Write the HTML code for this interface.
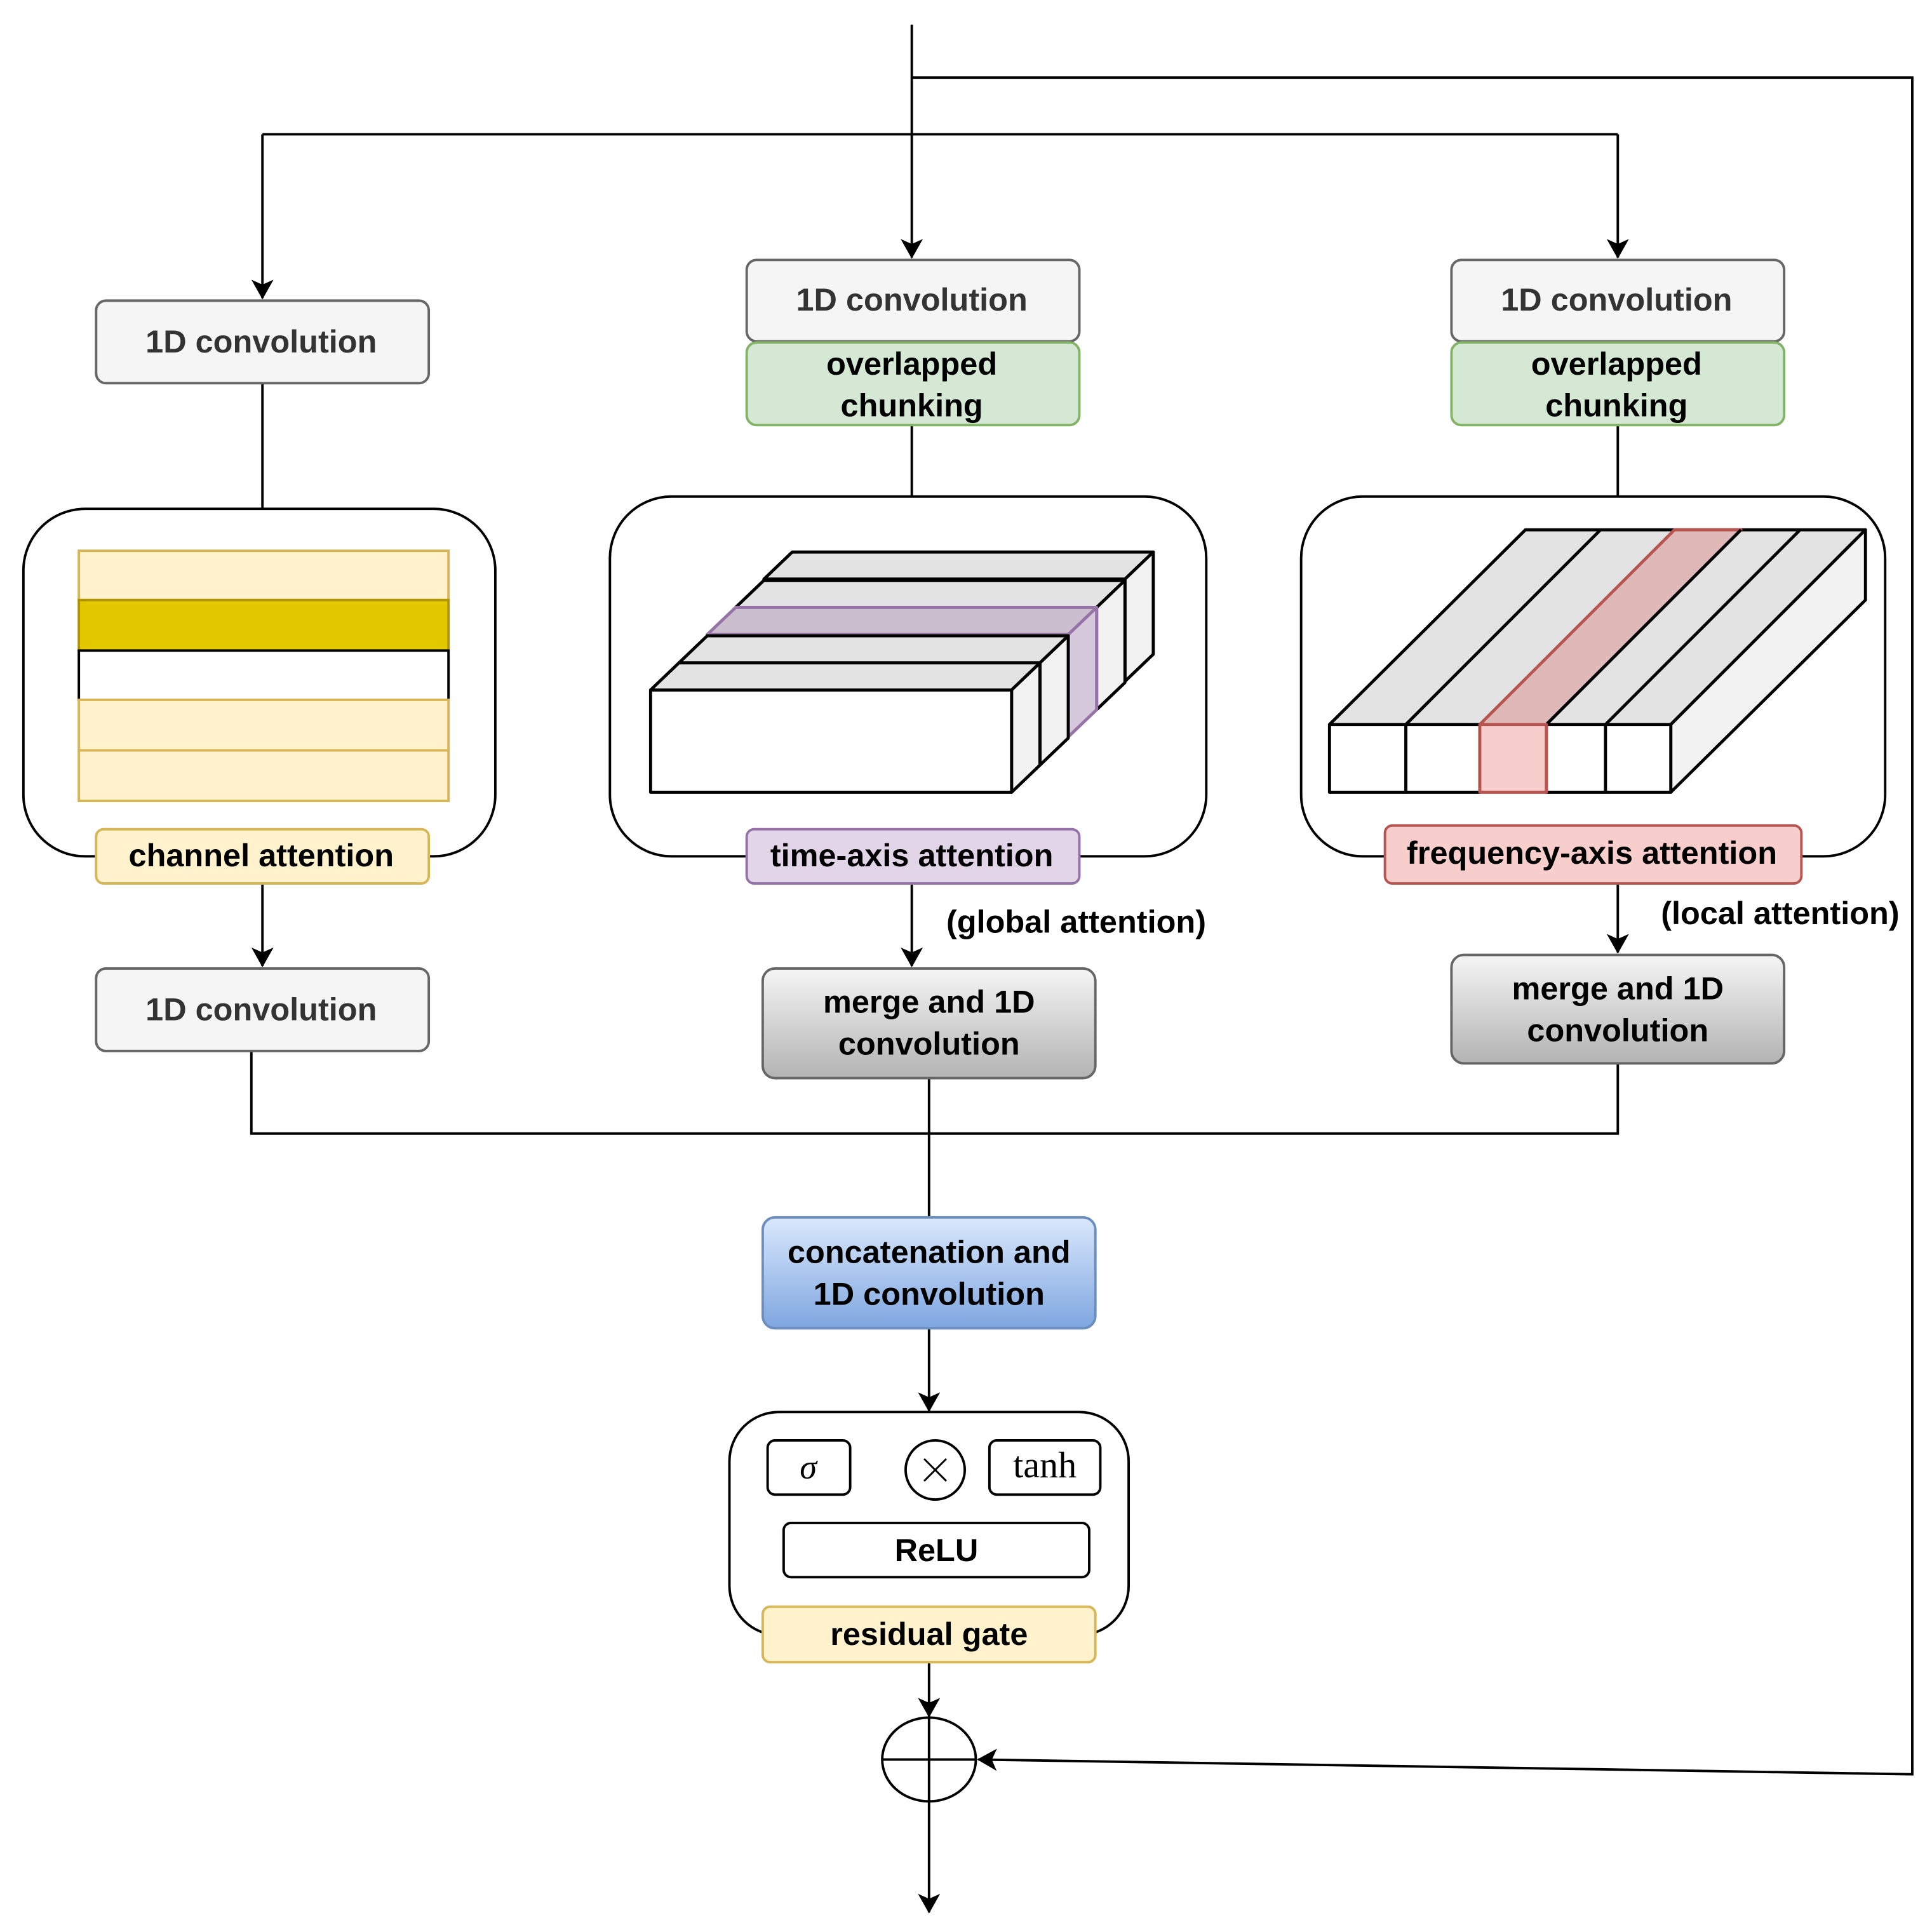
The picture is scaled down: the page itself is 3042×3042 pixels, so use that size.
<!DOCTYPE html>
<html><head><meta charset="utf-8"><style>html,body{margin:0;padding:0;background:#fff}svg{display:block}</style></head>
<body>
<svg width="3042" height="3042" viewBox="0 0 1568 1568" xmlns="http://www.w3.org/2000/svg" font-family="Liberation Sans, Arial, sans-serif" font-weight="bold">
<defs>
<marker id="ar" markerWidth="16" markerHeight="18" refX="15" refY="9" orient="auto" markerUnits="userSpaceOnUse" viewBox="0 0 16 18"><path d="M0,0 L16,9 L0,18 L4,9 Z" fill="#000"/></marker>
<linearGradient id="gg" x1="0" y1="0" x2="0" y2="1"><stop offset="0" stop-color="#f5f5f5"/><stop offset="1" stop-color="#b3b3b3"/></linearGradient>
<linearGradient id="gb" x1="0" y1="0" x2="0" y2="1"><stop offset="0" stop-color="#dae8fc"/><stop offset="1" stop-color="#7ea6e0"/></linearGradient>
</defs>
<g fill="none" stroke="#000" stroke-width="2">
<path d="M740,20 L740,209" marker-end="url(#ar)"/>
<path d="M740,63 L1552,63 L1552,1440 L794,1428" marker-end="url(#ar)"/>
<path d="M213,109 L1313,109"/>
<path d="M213,109 L213,242" marker-end="url(#ar)"/>
<path d="M1313,109 L1313,209" marker-end="url(#ar)"/>
<path d="M213,311 L213,413"/>
<path d="M740,345 L740,403"/>
<path d="M1313,345 L1313,403"/>
<path d="M213,717 L213,784" marker-end="url(#ar)"/>
<path d="M740,717 L740,784" marker-end="url(#ar)"/>
<path d="M1313,717 L1313,773" marker-end="url(#ar)"/>
<path d="M204,853 L204,920 L1313,920 L1313,863"/>
<path d="M754,875 L754,988"/>
<path d="M754,1078 L754,1145" marker-end="url(#ar)"/>
<path d="M754,1349 L754,1393" marker-end="url(#ar)"/>
<path d="M754,1462 L754,1552" marker-end="url(#ar)"/>
</g>
<rect x="19" y="413" width="383" height="282" rx="50" fill="#fff" stroke="#000" stroke-width="2"/>
<rect x="495" y="403" width="484" height="292" rx="50" fill="#fff" stroke="#000" stroke-width="2"/>
<rect x="1056" y="403" width="474" height="292" rx="50" fill="#fff" stroke="#000" stroke-width="2"/>
<rect x="592" y="1146" width="324" height="181" rx="40" fill="#fff" stroke="#000" stroke-width="2"/>
<rect x="64" y="447" width="300" height="40" fill="#fff2cc" stroke="#d6b656" stroke-width="2"/>
<rect x="64" y="487" width="300" height="41" fill="#e3c800" stroke="#b09500" stroke-width="2"/>
<rect x="64" y="528" width="300" height="40" fill="#fff" stroke="#000" stroke-width="2"/>
<rect x="64" y="568" width="300" height="41" fill="#fff2cc" stroke="#d6b656" stroke-width="2"/>
<rect x="64" y="609" width="300" height="41" fill="#fff2cc" stroke="#d6b656" stroke-width="2"/>
<g stroke-width="2.5" stroke-linejoin="round">
<g transform="translate(92,-90)" stroke="#000"><path d="M528,560 L551,538 L844,538 L821,560 Z" fill="#e3e3e3"/><path d="M821,560 L844,538 L844,621 L821,643 Z" fill="#f2f2f2"/><rect x="528" y="560" width="293" height="83" fill="#fff"/></g>
<g transform="translate(69,-67)" stroke="#000"><path d="M528,560 L551,538 L844,538 L821,560 Z" fill="#e3e3e3"/><path d="M821,560 L844,538 L844,621 L821,643 Z" fill="#f2f2f2"/><rect x="528" y="560" width="293" height="83" fill="#fff"/></g>
<g transform="translate(46,-45)" stroke="#9673a6"><path d="M528,560 L551,538 L844,538 L821,560 Z" fill="#cbbfcf"/><path d="M821,560 L844,538 L844,621 L821,643 Z" fill="#d6c9dc"/><rect x="528" y="560" width="293" height="83" fill="#e1d5e7"/></g>
<g transform="translate(23,-22)" stroke="#000"><path d="M528,560 L551,538 L844,538 L821,560 Z" fill="#e3e3e3"/><path d="M821,560 L844,538 L844,621 L821,643 Z" fill="#f2f2f2"/><rect x="528" y="560" width="293" height="83" fill="#fff"/></g>
<g stroke="#000"><path d="M528,560 L551,538 L844,538 L821,560 Z" fill="#e3e3e3"/><path d="M821,560 L844,538 L844,621 L821,643 Z" fill="#f2f2f2"/><rect x="528" y="560" width="293" height="83" fill="#fff"/></g>
</g>
<g stroke="#000" stroke-width="2.5" stroke-linejoin="round">
<path d="M1079,588 L1238,430 L1514,430 L1356,588 Z" fill="#e3e3e3"/>
<path d="M1356,588 L1514,430 L1514,487 L1356,643 Z" fill="#f2f2f2"/>
<path d="M1201,588 L1359,430 L1413,430 L1255,588 Z" fill="#dfb8b8" stroke="#b85450"/>
<path d="M1141,588 L1299,430 M1303,588 L1461,430" fill="none"/>
<path d="M1255,588 L1413,430" fill="none"/>
<rect x="1079" y="588" width="62" height="55" fill="#fff"/>
<rect x="1141" y="588" width="60" height="55" fill="#fff"/>
<rect x="1255" y="588" width="48" height="55" fill="#fff"/>
<rect x="1303" y="588" width="53" height="55" fill="#fff"/>
<rect x="1201" y="588" width="54" height="55" fill="#f8cecc" stroke="#b85450"/>
</g>
<g stroke-width="2">
<rect x="78" y="244" width="270" height="67" rx="8" fill="#f5f5f5" stroke="#666"/>
<rect x="606" y="211" width="270" height="66" rx="8" fill="#f5f5f5" stroke="#666"/>
<rect x="1178" y="211" width="270" height="66" rx="8" fill="#f5f5f5" stroke="#666"/>
<rect x="606" y="278" width="270" height="67" rx="8" fill="#d5e8d4" stroke="#82b366"/>
<rect x="1178" y="278" width="270" height="67" rx="8" fill="#d5e8d4" stroke="#82b366"/>
<rect x="78" y="673" width="270" height="44" rx="6" fill="#fff2cc" stroke="#d6b656"/>
<rect x="606" y="673" width="270" height="44" rx="6" fill="#e1d5e7" stroke="#9673a6"/>
<rect x="1124" y="670" width="338" height="47" rx="6" fill="#f8cecc" stroke="#b85450"/>
<rect x="78" y="786" width="270" height="67" rx="8" fill="#f5f5f5" stroke="#666"/>
<rect x="619" y="786" width="270" height="89" rx="10" fill="url(#gg)" stroke="#666"/>
<rect x="1178" y="775" width="270" height="88" rx="10" fill="url(#gg)" stroke="#666"/>
<rect x="619" y="988" width="270" height="90" rx="10" fill="url(#gb)" stroke="#6c8ebf"/>
<rect x="623" y="1169" width="67" height="44" rx="6" fill="#fff" stroke="#000"/>
<rect x="803" y="1169" width="90" height="44" rx="6" fill="#fff" stroke="#000"/>
<rect x="636" y="1236" width="248" height="44" rx="6" fill="#fff" stroke="#000"/>
<rect x="619" y="1304" width="270" height="45" rx="6" fill="#fff2cc" stroke="#d6b656"/>
<circle cx="759" cy="1193" r="24" fill="#fff" stroke="#000"/>
<path d="M750,1184 L768,1202 M768,1184 L750,1202" stroke="#000" stroke-width="1.5"/>
<ellipse cx="754" cy="1428" rx="38" ry="34" fill="#fff" stroke="#000"/>
<path d="M754,1394 L754,1462 M716,1428 L792,1428" stroke="#000"/>
</g>
<g font-size="26" text-anchor="middle" fill="#333">
<text x="212" y="286">1D convolution</text>
<text x="740" y="252">1D convolution</text>
<text x="1312" y="252">1D convolution</text>
<text x="212" y="828">1D convolution</text>
</g>
<g font-size="26" text-anchor="middle" fill="#000">
<text x="740" y="304">overlapped</text>
<text x="740" y="338">chunking</text>
<text x="1312" y="304">overlapped</text>
<text x="1312" y="338">chunking</text>
<text x="212" y="703">channel attention</text>
<text x="740" y="703">time-axis attention</text>
<text x="1292" y="701">frequency-axis  attention</text>
<text x="754" y="822">merge and 1D</text>
<text x="754" y="856">convolution</text>
<text x="1313" y="811">merge and 1D</text>
<text x="1313" y="845">convolution</text>
<text x="754" y="1025">concatenation and</text>
<text x="754" y="1059">1D convolution</text>
<text x="760" y="1267">ReLU</text>
<text x="754" y="1335">residual gate</text>
</g>
<text x="768" y="757" font-size="26" fill="#000">(global attention)</text>
<text x="1348" y="750" font-size="26" fill="#000">(local attention)</text>
<text x="656" y="1200" font-size="28" font-style="italic" font-weight="normal" text-anchor="middle" font-family="Liberation Serif, serif">σ</text>
<text x="848" y="1199" font-size="30" font-weight="normal" text-anchor="middle" font-family="Liberation Serif, serif">tanh</text>
</svg>
</body></html>
